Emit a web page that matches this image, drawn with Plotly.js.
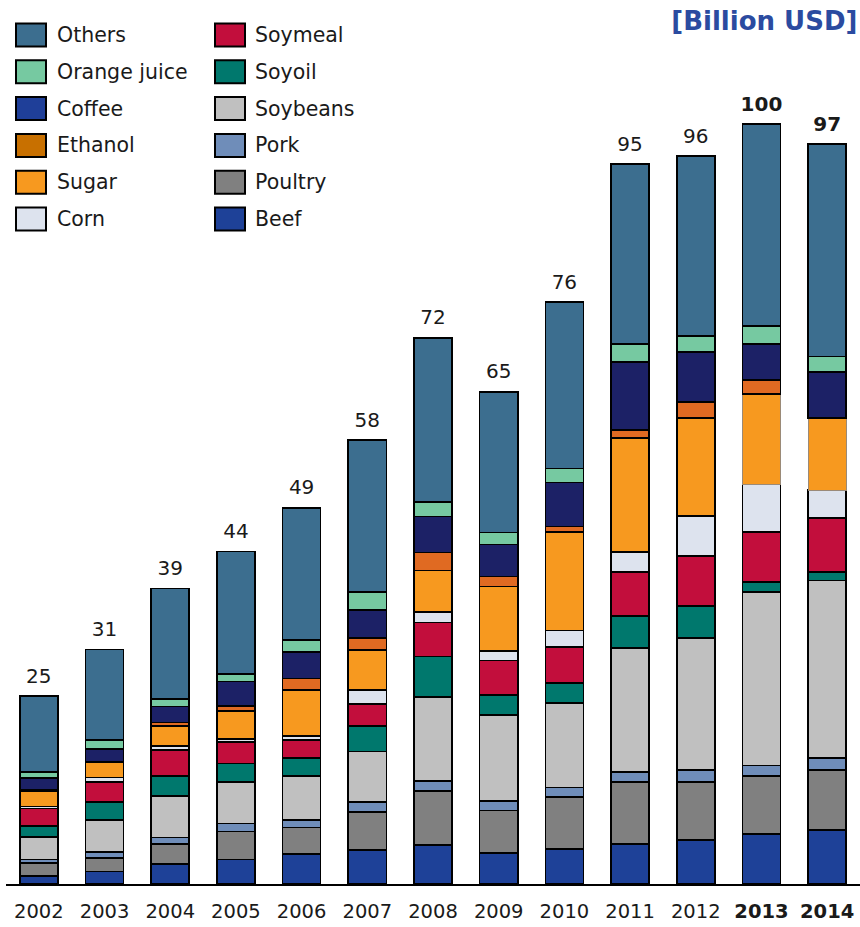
<!DOCTYPE html>
<html>
<head>
<meta charset="utf-8">
<script src="https://cdn.plot.ly/plotly-3.0.1.min.js"></script>
<style>html,body{margin:0;padding:0;background:#fff;}#chart{width:860px;height:927px;}</style>
</head>
<body>
<div id="chart"></div>
<script>
// ---- data (Billion USD) ----
var years = ["2002","2003","2004","2005","2006","2007","2008","2009","2010","2011","2012","2013","2014"];
var yearLabels = ["2002","2003","2004","2005","2006","2007","2008","2009","2010","2011","2012","<b>2013</b>","<b>2014</b>"];
var totalLabels = ["25","31","39","44","49","58","72","65","76","95","96","<b>100</b>","<b>97</b>"];

var others   = [10.0, 11.9, 14.5, 16.1, 17.4, 20.0, 21.6, 18.5, 21.9, 23.7, 23.7, 26.6, 27.9];
var orangeJ  = [0.75, 1.24, 1.0, 1.0, 1.54, 2.37, 1.88, 1.58, 1.83, 2.33, 2.03, 2.37, 2.07];
var coffee   = [1.6, 1.62, 2.1, 3.2, 3.5, 3.68, 4.74, 4.22, 5.8, 8.95, 6.62, 4.7, 6.05];
var ethanol  = [0.15, 0.05, 0.5, 0.7, 1.54, 1.58, 2.36, 1.34, 0.71, 1.05, 2.11, 1.84, 0];
var sugar    = [2.0, 2.07, 2.6, 3.7, 6.0, 5.26, 5.51, 8.43, 12.99, 15.04, 12.89, 11.88, 9.47];
var corn     = [0.25, 0.53, 0.57, 0.35, 0.57, 1.88, 1.34, 1.29, 2.12, 2.59, 5.26, 6.32, 3.68];
var soymeal  = [2.3, 2.67, 3.4, 2.85, 2.37, 2.86, 4.5, 4.51, 4.79, 5.79, 6.58, 6.54, 7.11];
var soyoil   = [1.5, 2.33, 2.6, 2.4, 2.33, 3.38, 5.28, 2.63, 2.59, 4.21, 4.21, 1.28, 1.09];
var soybeans = [2.9, 4.25, 5.5, 5.5, 5.83, 6.62, 11.07, 11.32, 11.12, 16.32, 17.37, 22.89, 23.38];
var pork     = [0.5, 0.75, 0.8, 1.05, 1.0, 1.28, 1.3, 1.29, 1.25, 1.32, 1.58, 1.36, 1.58];
var poultry  = [1.7, 1.84, 2.7, 3.7, 3.46, 5.04, 7.14, 5.57, 6.86, 8.12, 7.63, 7.63, 7.89];
var beef     = [1.05, 1.62, 2.6, 3.2, 3.95, 4.47, 5.13, 4.08, 4.61, 5.3, 5.79, 6.58, 7.11];

// stacking order, bottom to top
var seriesNames = ["Beef","Poultry","Pork","Soybeans","Soyoil","Soymeal","Corn","Sugar","Ethanol","Coffee","Orange juice","Others"];
var seriesValues = [beef, poultry, pork, soybeans, soyoil, soymeal, corn, sugar, ethanol, coffee, orangeJ, others];
var barColors = ["#1E4198","#808080","#6F8DB9","#C0C0C0","#00786D","#C20E3C","#DDE3EE","#F7991F","#E06A22","#1C2166","#76C9A1","#3C6E8F"];

// legend layout (two columns, as in the reference)
var legendLeft  = ["Others","Orange juice","Coffee","Ethanol","Sugar","Corn"];
var legendRight = ["Soymeal","Soyoil","Soybeans","Pork","Poultry","Beef"];
var legendColors = {"Others":"#3C6E8F","Orange juice":"#76C9A1","Coffee":"#1F3F99","Ethanol":"#C87000","Sugar":"#F7991F","Corn":"#DDE3EE",
  "Soymeal":"#C20E3C","Soyoil":"#00786D","Soybeans":"#C0C0C0","Pork":"#6F8DB9","Poultry":"#808080","Beef":"#1E4198"};

var FONT = "DejaVu Sans, Verdana, sans-serif";
var traces = [];
seriesNames.forEach(function(name, i){
  var lineColor = "#000";
  var lineWidth = 1.6;
  if (name === "Sugar") {
    lineColor = years.map(function(y, k){ return k >= 11 ? "#9a8a78" : "#000"; });
    lineWidth = years.map(function(y, k){ return k >= 11 ? 1 : 1.6; });
  }
  traces.push({
    type: "bar", name: name, x: years, y: seriesValues[i],
    marker: {color: barColors[i], line: {color: lineColor, width: lineWidth}},
    showlegend: false, hoverinfo: "name+y"
  });
});

var sums = years.map(function(y, k){
  var s = 0; seriesValues.forEach(function(arr){ s += arr[k]; }); return s;
});
traces.push({
  type: "scatter", mode: "markers+text", x: years, y: sums, text: totalLabels,
  marker: {size: 12, opacity: 0},
  textposition: "top center", textfont: {family: FONT, size: 20, color: "#1a1a1a"},
  cliponaxis: false, showlegend: false, hoverinfo: "skip"
});

// plot area in pixels
var W = 860, H = 927, mL = 6, mR = 0, mT = 10, mB = 43;
var pw = W - mL - mR, ph = H - mT - mB;
function px2x(px){ return (px - mL) / pw; }
function px2y(py){ return (H - mB - py) / ph; }

var shapes = [], annotations = [];
function addLegendCol(names, swX, txX){
  names.forEach(function(n, r){
    var cy = 35 + r * 36.8;
    shapes.push({type: "rect", xref: "paper", yref: "paper",
      x0: px2x(swX), x1: px2x(swX + 30), y0: px2y(cy + 11.5), y1: px2y(cy - 11.5),
      fillcolor: legendColors[n], line: {color: "#000", width: 2}});
    annotations.push({xref: "paper", yref: "paper", x: px2x(txX), y: px2y(cy),
      xanchor: "left", yanchor: "middle", showarrow: false, text: n,
      font: {family: FONT, size: 20.5, color: "#1a1a1a"}});
  });
}
addLegendCol(legendLeft, 16, 55);
addLegendCol(legendRight, 215, 253);

var layout = {
  width: W, height: H,
  margin: {l: mL, r: mR, t: mT, b: mB},
  paper_bgcolor: "#fff", plot_bgcolor: "#fff",
  barmode: "stack", bargap: 0.42,
  showlegend: false,
  title: {text: "<b>[Billion USD]</b>", x: 0.997, xanchor: "right", xref: "container",
    y: 1 - 21/927, yanchor: "middle", yref: "container",
    font: {family: FONT, size: 26, color: "#2B4BA0"}},
  xaxis: {type: "category", range: [-0.5, years.length - 0.5], tickvals: years, ticktext: yearLabels,
    showline: true, linecolor: "#000", linewidth: 2, ticks: "", showgrid: false, zeroline: false,
    tickfont: {family: FONT, size: 19.5, color: "#1a1a1a"}, ticklabelstandoff: 9, fixedrange: true},
  yaxis: {range: [0, ph / 7.6], visible: false, showgrid: false, zeroline: false, fixedrange: true},
  shapes: shapes, annotations: annotations,
  font: {family: FONT}
};

Plotly.newPlot("chart", traces, layout, {displayModeBar: false, staticPlot: true});
</script>
</body>
</html>
